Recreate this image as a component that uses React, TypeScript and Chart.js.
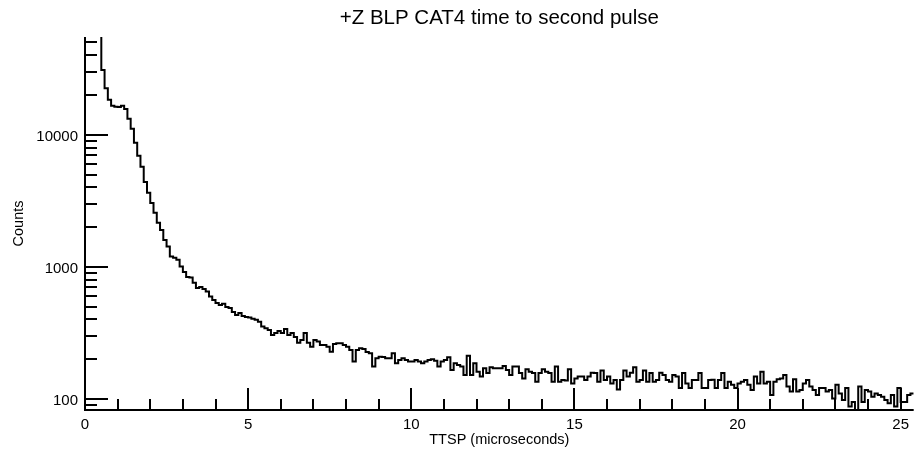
import { useEffect, useRef } from 'react';
import { Chart, registerables } from 'chart.js';

Chart.register(...registerables);

const TITLE = '+Z BLP CAT4 time to second pulse';
const X_TITLE = 'TTSP (microseconds)';
const Y_TITLE = 'Counts';

// histogram bins: first bin starts at BIN_START, each BIN_WIDTH wide
const BIN_START = 0.4;
const BIN_WIDTH = 0.1;
const X_MIN = 0;
const X_MAX = 25.4;
const Y_MIN = 82.5;
const Y_MAX = 55000;

const COUNTS = [
  120000, 31000, 22500, 18400, 16600, 16300, 16200, 16600, 15700, 13200,
  11100, 8700, 6930, 5720, 4400, 3640, 3050, 2565, 2155, 1905,
  1600, 1425, 1197, 1170, 1130, 1005, 915, 840, 830, 757,
  693, 705, 680, 650, 596, 562, 533, 515, 525, 497,
  488, 456, 433, 448, 425, 418, 414, 404, 397, 385,
  353, 343, 333, 305, 316, 327, 316, 339, 305, 316,
  295, 266, 280, 316, 266, 249, 280, 272, 256, 256,
  249, 228, 261, 264, 264, 256, 248, 235, 192, 235,
  242, 239, 227, 222, 176, 203, 209, 208, 203, 203,
  222, 186, 197, 203, 197, 192, 192, 197, 192, 186,
  192, 197, 200, 195, 176, 192, 197, 207, 166, 186,
  181, 176, 152, 212, 152, 186, 161, 148, 171, 157,
  174, 171, 171, 171, 178, 166, 152, 176, 176, 157,
  143, 168, 161, 157, 135, 157, 168, 161, 157, 135,
  176, 135, 139, 138, 168, 131, 143, 148, 148, 139,
  148, 158, 157, 135, 164, 139, 148, 131, 139, 118,
  139, 164, 148, 158, 174, 135, 139, 164, 135, 157,
  135, 139, 158, 152, 139, 135, 152, 148, 121, 157,
  131, 121, 139, 139, 157, 121, 121, 139, 140, 121,
  139, 157, 121, 135, 128, 121, 131, 135, 139, 128,
  117, 148, 131, 161, 131, 135, 107, 135, 141, 143,
  152, 124, 114, 141, 114, 117, 131, 139, 124, 117,
  107, 121, 121, 114, 117, 101, 128, 110, 98, 121,
  87.5, 95, 75, 124, 95, 117, 114, 104, 110, 107,
  104, 98, 93, 107, 87.5, 121, 95, 95, 107, 110,
];

const X_TICK_LABELS = [0, 5, 10, 15, 20, 25];
const X_MINOR_TICKS = [1, 2, 3, 4, 6, 7, 8, 9, 11, 12, 13, 14, 16, 17, 18, 19, 21, 22, 23, 24];
const Y_TICK_LABELS = [100, 1000, 10000];
const Y_MINOR_TICKS = [
  90, 200, 300, 400, 500, 600, 700, 800, 900,
  2000, 3000, 4000, 5000, 6000, 7000, 8000, 9000,
  20000, 30000, 40000, 50000,
];

const FONT = 'Liberation Sans, Arial, Helvetica, sans-serif';

const inwardTicks = {
  id: 'inwardTicks',
  afterDatasetsDraw(chart: any) {
    const { ctx, chartArea, scales } = chart;
    const xs = scales.x;
    const ys = scales.y;
    const { left, right, top, bottom } = chartArea;
    ctx.save();
    ctx.strokeStyle = '#000';
    ctx.lineWidth = 2;
    ctx.lineCap = 'butt';
    ctx.beginPath();
    ctx.moveTo(left, top);
    ctx.lineTo(left, bottom);
    ctx.lineTo(right, bottom);
    X_TICK_LABELS.forEach((v) => {
      const p = Math.round(xs.getPixelForValue(v));
      ctx.moveTo(p, bottom);
      ctx.lineTo(p, bottom - 22);
    });
    X_MINOR_TICKS.forEach((v) => {
      const p = Math.round(xs.getPixelForValue(v));
      ctx.moveTo(p, bottom);
      ctx.lineTo(p, bottom - 11);
    });
    Y_TICK_LABELS.forEach((v) => {
      const p = Math.round(ys.getPixelForValue(v));
      ctx.moveTo(left, p);
      ctx.lineTo(left + 23, p);
    });
    Y_MINOR_TICKS.forEach((v) => {
      const p = Math.round(ys.getPixelForValue(v));
      ctx.moveTo(left, p);
      ctx.lineTo(left + 12, p);
    });
    ctx.stroke();
    ctx.restore();
  },
};

export default function App() {
  const canvasRef = useRef<HTMLCanvasElement | null>(null);

  useEffect(() => {
    const canvas = canvasRef.current;
    if (!canvas) return;
    const points = COUNTS.map((c, i) => ({ x: +(BIN_START + i * BIN_WIDTH).toFixed(2), y: c }));
    points.push({ x: +(BIN_START + COUNTS.length * BIN_WIDTH).toFixed(2), y: COUNTS[COUNTS.length - 1] });

    const chart = new Chart(canvas, {
      type: 'line',
      data: {
        datasets: [
          {
            data: points,
            borderColor: '#000',
            borderWidth: 2,
            pointRadius: 0,
            stepped: true,
            fill: false,
          },
        ],
      },
      options: {
        animation: false,
        responsive: false,
        maintainAspectRatio: false,
        layout: { padding: 0 },
        plugins: {
          legend: { display: false },
          tooltip: { enabled: false },
          title: {
            display: true,
            text: TITLE,
            fullSize: false,
            color: '#000',
            font: { family: FONT, size: 20.5, weight: 'normal', lineHeight: 1.2 },
            padding: { top: 6.5, bottom: 5.9 },
          },
        },
        scales: {
          x: {
            type: 'linear',
            min: X_MIN,
            max: X_MAX,
            grid: { display: false, drawTicks: false },
            border: { display: false },
            afterBuildTicks: (s: any) => {
              s.ticks = X_TICK_LABELS.map((v) => ({ value: v }));
            },
            afterFit: (s: any) => {
              s.height = 46;
            },
            ticks: {
              color: '#000',
              font: { family: FONT, size: 15 },
              padding: 6,
              autoSkip: false,
              maxRotation: 0,
              callback: (v: any) => String(v),
            },
            title: {
              display: true,
              text: X_TITLE,
              color: '#000',
              font: { family: FONT, size: 14.5 },
              padding: { top: 0, bottom: 7 },
            },
          },
          y: {
            type: 'logarithmic',
            min: Y_MIN,
            max: Y_MAX,
            grid: { display: false, drawTicks: false },
            border: { display: false },
            afterBuildTicks: (s: any) => {
              s.ticks = Y_TICK_LABELS.map((v) => ({ value: v }));
            },
            afterFit: (s: any) => {
              s.width = 85;
            },
            ticks: {
              color: '#000',
              font: { family: FONT, size: 15 },
              padding: 7,
              labelOffset: 2,
              autoSkip: false,
              callback: (v: any) => String(v),
            },
            title: {
              display: true,
              text: Y_TITLE,
              color: '#000',
              font: { family: FONT, size: 14.5 },
              padding: { top: 10.3, bottom: 0 },
            },
          },
        },
      },
      plugins: [inwardTicks],
    });
    return () => chart.destroy();
  }, []);

  return (
    <div style={{ position: 'absolute', left: 0, top: 0, width: 915, height: 456, background: '#fff' }}>
      <canvas ref={canvasRef} width={915} height={456} />
    </div>
  );
}
